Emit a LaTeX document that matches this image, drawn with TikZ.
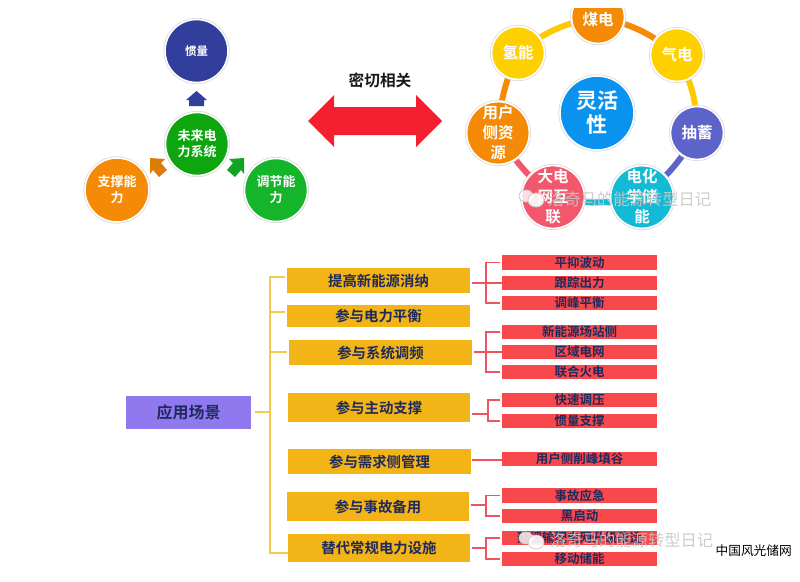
\documentclass[tikz,border=0pt]{standalone}
\usepackage{fontspec}
\setmainfont{Noto Sans CJK SC}[BoldFont={Noto Sans CJK SC Bold}]
\usetikzlibrary{backgrounds,calc}
\definecolor{navyt}{HTML}{1F2A5C}
\definecolor{ybox}{HTML}{F2B416}
\definecolor{rbox}{HTML}{F9484C}
\definecolor{yline}{HTML}{F0CB4E}
\definecolor{rline}{HTML}{EE5560}
\definecolor{pbox}{HTML}{9079EE}
\definecolor{cind}{HTML}{323E9B}
\definecolor{cgreen}{HTML}{0DA60F}
\definecolor{cgreen2}{HTML}{14B52A}
\definecolor{corange}{HTML}{F48A05}
\definecolor{cyellow}{HTML}{FFD000}
\definecolor{cblue}{HTML}{0A93EE}
\definecolor{cviolet}{HTML}{5C63C9}
\definecolor{cteal}{HTML}{13BAD6}
\definecolor{cpink}{HTML}{F2586C}
\definecolor{cred}{HTML}{F4202F}
\tikzset{
 ball/.style n args={4}{circle,fill=#1,draw=white,line width=1.6pt,minimum size=#2*2pt,inner sep=0pt,
   align=center,text=white,font=\bfseries\fontsize{#3}{#4}\selectfont,
   preaction={draw=black!14,line width=3.2pt}},
 ybx/.style={fill=ybox,inner sep=0pt,text=navyt,font=\bfseries\fontsize{14.4}{17}\selectfont},
 rbx/.style={fill=rbox,inner sep=0pt,text=navyt,font=\bfseries\fontsize{12.5}{15}\selectfont},
 yl/.style={draw=yline,line width=1.5pt},
 rl/.style={draw=rline,line width=1.4pt},
 ring/.style={line width=6pt,draw=#1},
 wmark/.style={font=\fontsize{16.3}{20}\selectfont,text=black!22,opacity=.9,inner sep=0pt},
}
% box helper: name, x0, y0, x1, y1, style, text
\newcommand{\bx}[7]{\node[#6,minimum width=#4pt-#2pt,minimum height=#5pt-#3pt,anchor=center] (#1) at ({(#2+#4)/2},{(#3+#5)/2}) {#7};}
\begin{document}
\begin{tikzpicture}[x=1pt,y=-1pt]
\useasboundingbox (0,0) rectangle (800,581);
% left cluster
\node[ball={cind}{31.5}{11.5}{14}] (inertia) at (196.5,51) {惯量};
\node[ball={cgreen}{31.5}{13}{16}] (future) at (197,144) {未来电\\力系统};
\node[ball={corange}{32}{13}{16}] (support) at (117,190) {支撑能\\力};
\node[ball={cgreen2}{31.5}{13}{16}] (regul) at (276,190) {调节能\\力};
\fill[cind] (196.5,91) -- (207,100) -- (204,100) -- (204,106) -- (189,106) -- (189,100) -- (186,100) -- cycle;
\fill[corange!90!black] (150,158) -- (165,159) -- (161,163) -- (167,170) -- (159,177) -- (153,170) -- (150,174) -- cycle;
\fill[cgreen2!90!black] (244,158) -- (229,159) -- (233,163) -- (227,170) -- (235,177) -- (241,170) -- (244,174) -- cycle;
% relation
\node[font=\bfseries\fontsize{15.7}{18}\selectfont,text=black!90,inner sep=0pt] (rel) at (380,80) {密切相关};
\fill[cred] (308,121) -- (334,95) -- (334,107) -- (416,107) -- (416,95) -- (442,121) -- (416,147) -- (416,135) -- (334,135) -- (334,147) -- cycle;
% right cluster
\node[ball={cblue}{37}{21}{24}] (flex) at (597,113) {灵活\\性};
\node[ball={corange}{26.5}{15.5}{20}] (coal) at (598,17) {\rule{0pt}{18pt}煤电};
\node[ball={cyellow}{26.5}{15.5}{20}] (gas) at (677,55) {气电};
\node[ball={cyellow}{26.5}{15.5}{20}] (hydro) at (518,53) {氢能};
\node[ball={cviolet}{26.5}{15.5}{20}] (pump) at (697,133) {抽蓄};
\node[ball={cteal}{25.5}{15.5}{20}] (chem) at (642,197) {电化\\学储\\能};
\node[ball={cpink}{25.5}{15.5}{20}] (grid) at (553,197) {大电\\网互\\联};
\node[ball={corange}{26.5}{15.5}{20}] (user) at (498,133) {用户\\侧资\\源};
\begin{scope}[on background layer]
\draw[ring=cyellow!90!orange] (hydro.center) to[bend left=14] (coal.center);
\draw[ring=corange] (coal.center) to[bend left=14] (gas.center);
\draw[ring=cyellow!90!orange] (gas.center) to[bend left=14] (pump.center);
\draw[ring=cviolet] (pump.center) to[bend left=10] (chem.center);
\draw[ring=cteal] (chem.center) to[bend left=12] (grid.center);
\draw[ring=cpink] (grid.center) to[bend left=10] (user.center);
\draw[ring=corange] (user.center) to[bend left=10] (hydro.center);
\end{scope}
\fill[white] (555,0) rectangle (640,8);
% lower tree
\bx{app}{126}{396}{251}{429}{fill=pbox,inner sep=0pt,text=navyt,font=\bfseries\fontsize{16}{19}\selectfont}{应用场景}
\bx{b1}{287}{268}{470}{293}{ybx}{提高新能源消纳}
\bx{b2}{287}{305}{470}{327}{ybx}{参与电力平衡}
\bx{b3}{289}{340}{472}{365}{ybx}{参与系统调频}
\bx{b4}{288}{393}{470}{422}{ybx}{参与主动支撑}
\bx{b5}{288}{449}{471}{474}{ybx}{参与需求侧管理}
\bx{b6}{287}{492}{469}{521}{ybx}{参与事故备用}
\bx{b7}{288}{534}{470}{562}{ybx}{替代常规电力设施}
\bx{r11}{502}{255}{657}{270}{rbx}{平抑波动}
\bx{r12}{502}{276}{657}{290}{rbx}{跟踪出力}
\bx{r13}{502}{296}{657}{310}{rbx}{调峰平衡}
\bx{r31}{502}{325}{657}{339}{rbx}{新能源场站侧}
\bx{r32}{502}{345}{657}{359}{rbx}{区域电网}
\bx{r33}{502}{365}{657}{379}{rbx}{联合火电}
\bx{r41}{502}{393}{657}{407}{rbx}{快速调压}
\bx{r42}{502}{414}{657}{428}{rbx}{惯量支撑}
\bx{r51}{502}{452}{657}{466}{rbx}{用户侧削峰填谷}
\bx{r61}{502}{488}{657}{503}{rbx}{事故应急}
\bx{r62}{502}{509}{657}{523}{rbx}{黑启动}
\bx{r71}{502}{531}{657}{545}{rbx}{延缓输配电网升级改造}
\bx{r72}{502}{552}{657}{566}{rbx}{移动储能}
% yellow tree
\coordinate (tj) at (270,412);
\coordinate (t1) at (270,277);
\coordinate (t7) at (270,553);
\draw[yl,shorten <=4pt] (app.east |- tj) -- (tj);
\draw[yl,shorten >=2pt] (t7 -| b7.west) -- (t7) -- (t1) -- (t1 -| b1.west);
\coordinate (t2) at (270,312);
\coordinate (t3) at (270,352);
\draw[yl,shorten >=2pt] (t2) -- (t2 -| b2.west);
\draw[yl,shorten >=2pt] (t3) -- (t3 -| b3.west);
% red connectors
\coordinate (j1) at (486,283);
\coordinate (j3) at (486,352);
\coordinate (j4) at (488,414);
\coordinate (j6) at (486,505);
\coordinate (j7) at (486,548);
\foreach \b/\j/\u/\d in {b1/j1/r11/r13,b3/j3/r31/r33,b4/j4/r41/r42,b6/j6/r61/r62,b7/j7/r71/r72}{
  \draw[rl,shorten <=2pt] (\b.east |- \j) -- (\j);
  \draw[rl,shorten <=2pt,shorten >=2pt] (\u.west) -| (\j) |- (\d.west);
}
\draw[rl,shorten <=2pt] (b1.east |- j1) -- (r12.west);
\draw[rl,shorten <=2pt] (b3.east |- j3) -- (r32.west);
\coordinate (j5) at (490,460);
\draw[rl,shorten <=1pt] (b5.east |- j5) -- (r51.west |- j5);
% watermarks
\foreach \x/\y in {533/198,533/540}{
  \fill[white,opacity=.8] (\x-7,\y-2) ellipse[x radius=7,y radius=6];
  \draw[black!20,line width=.8pt] (\x-7,\y-2) ellipse[x radius=7,y radius=6];
  \fill[white,opacity=.9] (\x+3,\y+2) ellipse[x radius=8,y radius=7];
  \draw[black!20,line width=.8pt] (\x+3,\y+2) ellipse[x radius=8,y radius=7];
}
\node[wmark,anchor=west] (wm1) at (548,199) {洛奇马的能源转型日记};
\node[wmark,anchor=west] (wm2) at (550,540) {洛奇马的能源转型日记};
\node[font=\fontsize{12.7}{15}\selectfont,text=black,inner sep=0pt,anchor=east] (site) at (792,551) {中国风光储网};
\end{tikzpicture}
\end{document}
